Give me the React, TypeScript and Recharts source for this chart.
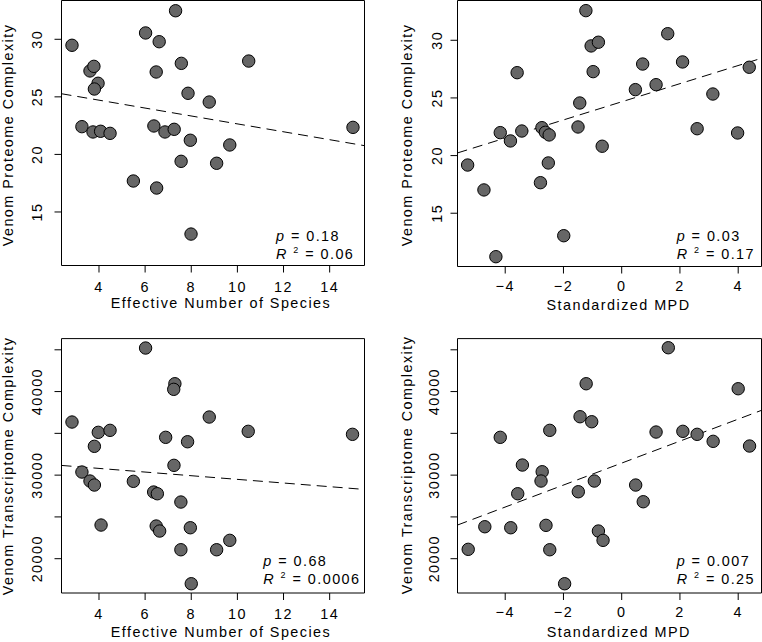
import React from 'react';
import { ScatterChart, Scatter, XAxis, YAxis, ReferenceArea, ReferenceLine } from 'recharts';

// ---------- data ----------
const ensProteome = [7.32, 6.02, 2.83, 6.61, 3.61, 3.78, 3.96, 3.8, 6.48, 7.57, 10.49, 7.86, 8.78, 3.26, 3.74, 4.07, 4.48, 6.38, 6.86, 7.26, 7.96, 9.67, 7.56, 9.1, 5.49, 6.5, 7.99, 15.01];
const proteomeByEns = [32.48, 30.55, 29.48, 29.79, 27.25, 27.65, 26.18, 25.68, 27.16, 27.91, 28.11, 25.31, 24.55, 22.41, 21.95, 22.01, 21.83, 22.47, 21.95, 22.18, 21.23, 20.82, 19.4, 19.23, 17.69, 17.08, 13.08, 22.35];

const mpdProteome = [-1.23, 1.58, -1.05, -0.8, -3.59, -0.98, 0.72, 2.09, 4.38, 1.18, 0.47, 3.13, -1.44, -4.17, -3.43, -3.82, -2.74, -2.62, -2.49, -1.5, 2.59, 3.98, -0.67, -5.29, -2.52, -2.79, -4.73, -1.99, -4.32];
const proteomeByMpd = [32.57, 30.57, 29.51, 29.83, 27.19, 27.28, 27.94, 28.12, 27.66, 26.15, 25.72, 25.34, 24.56, 21.99, 22.13, 21.27, 22.42, 22.02, 21.79, 22.48, 22.33, 21.96, 20.81, 19.18, 19.36, 17.65, 17.02, 13.05, 11.23];

const ensTranscriptome = [6.02, 7.29, 7.24, 2.83, 8.78, 3.97, 4.48, 10.47, 14.99, 6.89, 7.84, 3.8, 7.25, 3.26, 3.61, 3.8, 5.49, 6.37, 6.53, 7.55, 4.09, 6.48, 6.63, 7.96, 9.67, 7.55, 9.1, 8.0];
const transcriptomeByEns = [45211, 40938, 40268, 36355, 36953, 35122, 35361, 35242, 34883, 34524, 33997, 33447, 31173, 30371, 29294, 28815, 29258, 27977, 27774, 26781, 24028, 23909, 23310, 23705, 22197, 21072, 21072, 17003];

const mpdTranscriptome = [1.6, -1.22, 4.0, -1.43, -1.03, -2.47, -4.17, 1.18, 2.1, 2.59, 3.14, 4.39, -3.41, -2.73, -2.77, -0.94, -3.57, -1.49, 0.48, 0.74, -4.7, -3.81, -2.6, -0.8, -0.64, -5.27, -2.47, -1.96];
const transcriptomeByMpd = [45247, 40938, 40340, 36989, 36391, 35361, 34524, 35158, 35242, 34883, 34045, 33483, 31209, 30407, 29294, 29294, 27774, 28013, 28815, 26817, 23824, 23705, 23992, 23310, 22197, 21120, 21072, 17003];

const ensTicks = [4, 6, 8, 10, 12, 14];
const mpdTicks = [-4, -2, 0, 2, 4];
const proteomeTicks = [15, 20, 25, 30];
const transcriptomeTicks = [20000, 25000, 30000, 35000, 40000, 45000];
const transcriptomeTickLabels = [20000, 30000, 40000];

// fitted regression line values at the left and right ends of each x range
const fitEnsProteome = [25.27, 20.76];
const fitMpdProteome = [20.23, 28.44];
const fitEnsTranscriptome = [31161, 28289];
const fitMpdTranscriptome = [24028, 37755];

const pValues = ['0.18', '0.03', '0.68', '0.007'];
const r2Values = ['0.06', '0.17', '0.0006', '0.25'];

const xTitles = ['Effective Number of Species', 'Standardized MPD', 'Effective Number of Species', 'Standardized MPD'];
const yTitles = ['Venom Proteome Complexity', 'Venom Proteome Complexity', 'Venom Transcriptome Complexity', 'Venom Transcriptome Complexity'];

// ---------- layout ----------
const W = 381;
const H = 321;
const FONT = '"Liberation Sans", Arial, Helvetica, sans-serif';
const FS = 14.4;
const LS = 1.45;

type Cfg = {
  left: number; top: number;
  pl: number; pr: number; pt: number; pb: number;
  xDomain: [number, number]; yDomain: [number, number];
  xs: number[]; ys: number[];
  xTicks: number[]; yTicks: number[]; yLabels?: number[];
  fit: number[];
  xTickBase: number; yTickBase: number;
  xTitleX: number; xTitleBase: number;
  yTitleBase: number; yTitleY: number;
  annX: number; annP: number; annR: number;
  idx: number;
};

const panels: Cfg[] = [
  {
    left: 0, top: 0, pl: 61.5, pr: 364.5, pt: 0.5, pb: 265.5,
    xDomain: [2.375, 15.51], yDomain: [10.35, 33.37],
    xs: ensProteome, ys: proteomeByEns, xTicks: ensTicks, yTicks: proteomeTicks,
    fit: fitEnsProteome,
    xTickBase: 291.5, yTickBase: 42.5, xTitleX: 221, xTitleBase: 308,
    yTitleBase: 13.3, yTitleY: 135, annX: 276, annP: 241, annR: 259.3, idx: 0,
  },
  {
    left: 381, top: 0, pl: 76.5, pr: 380.5, pt: 0.5, pb: 266.5,
    xDomain: [-5.638, 4.8], yDomain: [10.38, 33.45],
    xs: mpdProteome, ys: proteomeByMpd, xTicks: mpdTicks, yTicks: proteomeTicks,
    fit: fitMpdProteome,
    xTickBase: 290.5, yTickBase: 60.7, xTitleX: 237.5, xTitleBase: 310,
    yTitleBase: 30.7, yTitleY: 135, annX: 295.7, annP: 240.7, annR: 259, idx: 1,
  },
  {
    left: 0, top: 321, pl: 61.5, pr: 364.5, pt: 17.6, pb: 272,
    xDomain: [2.375, 15.51], yDomain: [15895, 46340],
    xs: ensTranscriptome, ys: transcriptomeByEns, xTicks: ensTicks, yTicks: transcriptomeTicks,
    yLabels: transcriptomeTickLabels, fit: fitEnsTranscriptome,
    xTickBase: 298, yTickBase: 42.3, xTitleX: 221, xTitleBase: 316,
    yTitleBase: 12.5, yTitleY: 145, annX: 263.3, annP: 245, annR: 263.3, idx: 2,
  },
  {
    left: 381, top: 321, pl: 76.5, pr: 380.5, pt: 17.6, pb: 272,
    xDomain: [-5.638, 4.8], yDomain: [15895, 46340],
    xs: mpdTranscriptome, ys: transcriptomeByMpd, xTicks: mpdTicks, yTicks: transcriptomeTicks,
    yLabels: transcriptomeTickLabels, fit: fitMpdTranscriptome,
    xTickBase: 296, yTickBase: 58.3, xTitleX: 237.8, xTitleBase: 315.7,
    yTitleBase: 30.5, yTitleY: 144, annX: 295.7, annP: 245, annR: 263.3, idx: 3,
  },
];

const textStyle: React.CSSProperties = { letterSpacing: `${LS}px` };

function Dot(props: any) {
  const { cx, cy } = props;
  if (cx == null || cy == null) return <g />;
  return <circle cx={cx} cy={cy} r={6.2} fill="#666666" stroke="#000" strokeWidth={1} />;
}

function Panel({ c }: { c: Cfg }) {
  const data = c.xs.map((x, i) => ({ x, y: c.ys[i] }));
  const xTick = (p: any) => (
    <text x={p.x} y={c.xTickBase} textAnchor="middle" fontFamily={FONT} fontSize={FS} fill="#000" style={textStyle}>
      {String(p.payload.value).replace('-', '\u2212')}
    </text>
  );
  const yTick = (p: any) => {
    const v = p.payload.value;
    if (c.yLabels && !c.yLabels.includes(v)) return <g />;
    const x = c.yTickBase;
    return (
      <text x={x} y={p.y} transform={`rotate(-90 ${x} ${p.y})`} textAnchor="middle" fontFamily={FONT} fontSize={FS} fill="#000" style={textStyle}>
        {String(v)}
      </text>
    );
  };
  return (
    <div style={{ position: 'absolute', left: c.left, top: c.top, width: W, height: H }}>
      <ScatterChart width={W} height={H} margin={{ top: c.pt, right: W - c.pr, bottom: 0, left: 0 }}>
        <XAxis
          type="number" dataKey="x" domain={c.xDomain} ticks={c.xTicks} interval={0}
          allowDataOverflow height={H - c.pb} axisLine={false}
          tickSize={7} tickLine={{ stroke: '#000', strokeWidth: 1 }} tick={xTick}
        />
        <YAxis
          type="number" dataKey="y" domain={c.yDomain} ticks={c.yTicks} interval={0}
          allowDataOverflow width={c.pl} axisLine={false}
          tickSize={7} tickLine={{ stroke: '#000', strokeWidth: 1 }} tick={yTick}
        />
        <ReferenceLine
          segment={[{ x: c.xDomain[0], y: c.fit[0] }, { x: c.xDomain[1], y: c.fit[1] }]}
          stroke="#000" strokeWidth={1} strokeDasharray="10 6" ifOverflow="visible"
        />
        <Scatter data={data} isAnimationActive={false} shape={Dot} />
        <ReferenceArea
          x1={c.xDomain[0]} x2={c.xDomain[1]} y1={c.yDomain[0]} y2={c.yDomain[1]}
          fill="none" fillOpacity={0} stroke="#000" strokeWidth={1} ifOverflow="visible"
        />
        <g fontFamily={FONT} fontSize={FS} fill="#000">
          <text x={c.xTitleX} y={c.xTitleBase} textAnchor="middle" style={textStyle}>{xTitles[c.idx]}</text>
          <text
            x={c.yTitleBase} y={c.yTitleY} textAnchor="middle" style={textStyle}
            transform={`rotate(-90 ${c.yTitleBase} ${c.yTitleY})`}
          >{yTitles[c.idx]}</text>
          <text x={c.annX} y={c.annP} style={textStyle}>
            <tspan fontStyle="italic">p</tspan>
            <tspan>{` = ${pValues[c.idx]}`}</tspan>
          </text>
          <text x={c.annX} y={c.annR} style={textStyle}>
            <tspan fontStyle="italic">R</tspan>
            <tspan> </tspan>
            <tspan fontSize={9} dy={-6}>2</tspan>
            <tspan dy={6}>{` = ${r2Values[c.idx]}`}</tspan>
          </text>
        </g>
      </ScatterChart>
    </div>
  );
}

export default function App() {
  return (
    <div style={{ position: 'fixed', left: 0, top: 0, width: 762, height: 642, background: '#fff', overflow: 'hidden' }}>
      {panels.map((c) => (
        <Panel key={c.idx} c={c} />
      ))}
    </div>
  );
}
